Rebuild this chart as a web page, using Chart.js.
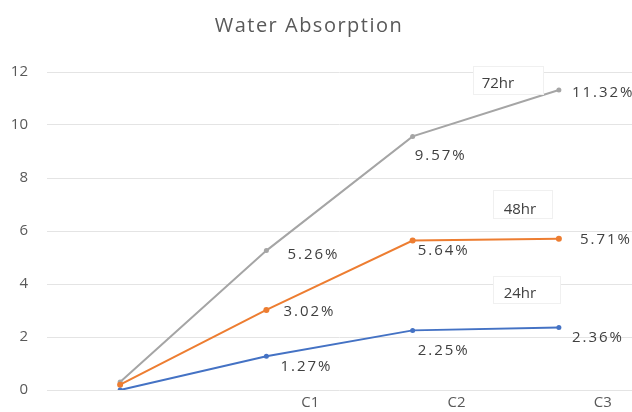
<!DOCTYPE html>
<html>
<head>
<meta charset="utf-8">
<script src="https://cdn.jsdelivr.net/npm/chart.js@4.4.0/dist/chart.umd.min.js"></script>
<style>
  html, body { margin: 0; padding: 0; background: #ffffff; }
  #wrap { width: 632px; height: 412px; }
</style>
</head>
<body>
<div id="wrap"><canvas id="c" width="632" height="412"></canvas></div>
<script>
// Water absorption (%) per composition, after 24, 48 and 72 hours
const categories = ['', 'C1', 'C2', 'C3'];
const seriesNames = ['24hr', '48hr', '72hr'];
const absorption24 = [0, 1.27, 2.25, 2.36];
const absorption48 = [0.2, 3.02, 5.64, 5.71];
const absorption72 = [0.3, 5.26, 9.57, 11.32];
const yTickValues = [0, 2, 4, 6, 8, 10, 12];

const FONT = '"Open Sans", "Liberation Sans", Arial, sans-serif';

// Value labels beside each point, and a boxed series name near each line's end
const annotatePlugin = {
  id: 'annotate',
  afterDatasetsDraw(chart, args, opts) {
    const ctx = chart.ctx;

    chart.data.datasets.forEach((ds, di) => {
      const meta = chart.getDatasetMeta(di);
      const offs = opts.valueOffsets[di];
      // value labels
      ctx.save();
      ctx.font = '15px ' + FONT;
      ctx.letterSpacing = '2px';
      ctx.fillStyle = '#404040';
      ctx.textAlign = 'left';
      ctx.textBaseline = 'middle';
      meta.data.forEach((pt, i) => {
        if (!offs[i]) return;
        ctx.fillText(ds.data[i].toFixed(2) + '%', pt.x + offs[i][0], pt.y + offs[i][1]);
      });
      ctx.restore();

      // series name box, placed relative to the last point
      const nb = opts.nameBoxes[di];
      const last = meta.data[meta.data.length - 1];
      ctx.save();
      ctx.fillStyle = '#ffffff';
      ctx.strokeStyle = '#f0f0f0';
      ctx.lineWidth = 1;
      const bx = Math.round(last.x + nb.box[0]) + 0.5;
      const by = Math.round(last.y + nb.box[1]) + 0.5;
      ctx.fillRect(bx, by, nb.box[2], nb.box[3]);
      ctx.strokeRect(bx, by, nb.box[2], nb.box[3]);
      ctx.font = '15px ' + FONT;
      ctx.fillStyle = '#404040';
      ctx.textAlign = 'center';
      ctx.textBaseline = 'middle';
      ctx.fillText(ds.label, last.x + nb.text[0], last.y + nb.text[1]);
      ctx.restore();
    });
  },
  afterDraw(chart, args, opts) {
    const ctx = chart.ctx;
    ctx.save();
    ctx.font = '20px ' + FONT;
    ctx.letterSpacing = '1.5px';
    ctx.fillStyle = '#595959';
    ctx.textAlign = 'center';
    ctx.textBaseline = 'middle';
    ctx.fillText(opts.title, 309, 26);
    ctx.restore();
  }
};

new Chart(document.getElementById('c'), {
  type: 'line',
  data: {
    labels: categories,
    datasets: [
      { label: seriesNames[0], data: absorption24, borderColor: '#4472C4', backgroundColor: '#4472C4',
        borderWidth: 2, pointRadius: 2.5, pointBorderWidth: 0 },
      { label: seriesNames[1], data: absorption48, borderColor: '#ED7D31', backgroundColor: '#ED7D31',
        borderWidth: 2, pointRadius: 3, pointBorderWidth: 0 },
      { label: seriesNames[2], data: absorption72, borderColor: '#A5A5A5', backgroundColor: '#A5A5A5',
        borderWidth: 2, pointRadius: 2.5, pointBorderWidth: 0 }
    ]
  },
  options: {
    responsive: false,
    animation: false,
    devicePixelRatio: 1,
    layout: { autoPadding: false, padding: { top: 72, right: 0, bottom: 0, left: 0 } },
    plugins: {
      legend: { display: false },
      title: { display: false },
      tooltip: { enabled: false },
      annotate: {
        title: 'Water Absorption',
        valueOffsets: [
          [null, [14, 10], [5, 20], [13, 10]],
          [null, [17, 2], [5, 10], [21, 1]],
          [null, [21, 4], [2, 19], [13, 3]]
        ],
        nameBoxes: [
          { box: [-66, -51, 67, 27], text: [-39, -34] },
          { box: [-66, -49, 59, 28], text: [-39, -29] },
          { box: [-86, -24, 70, 28], text: [-61, -6] }
        ]
      }
    },
    scales: {
      x: {
        type: 'category',
        offset: true,
        grid: { display: false, drawTicks: false, tickLength: 0 },
        border: { display: false },
        ticks: { color: '#595959', font: { family: FONT, size: 15 }, labelOffset: 44, padding: 4, maxRotation: 0 },
        afterFit(scale) { scale.height = 22; scale.paddingLeft = 0; scale.paddingRight = 0; }
      },
      y: {
        min: 0,
        max: 12,
        afterBuildTicks(scale) { scale.ticks = yTickValues.map(v => ({ value: v })); },
        grid: { color: '#E4E4E4', lineWidth: 1, drawTicks: false },
        border: { display: false },
        ticks: { color: '#595959', font: { family: FONT, size: 15 }, padding: 19 },
        afterFit(scale) { scale.width = 47; scale.paddingTop = 0; scale.paddingBottom = 0; }
      }
    }
  },
  plugins: [annotatePlugin]
});
</script>
</body>
</html>
